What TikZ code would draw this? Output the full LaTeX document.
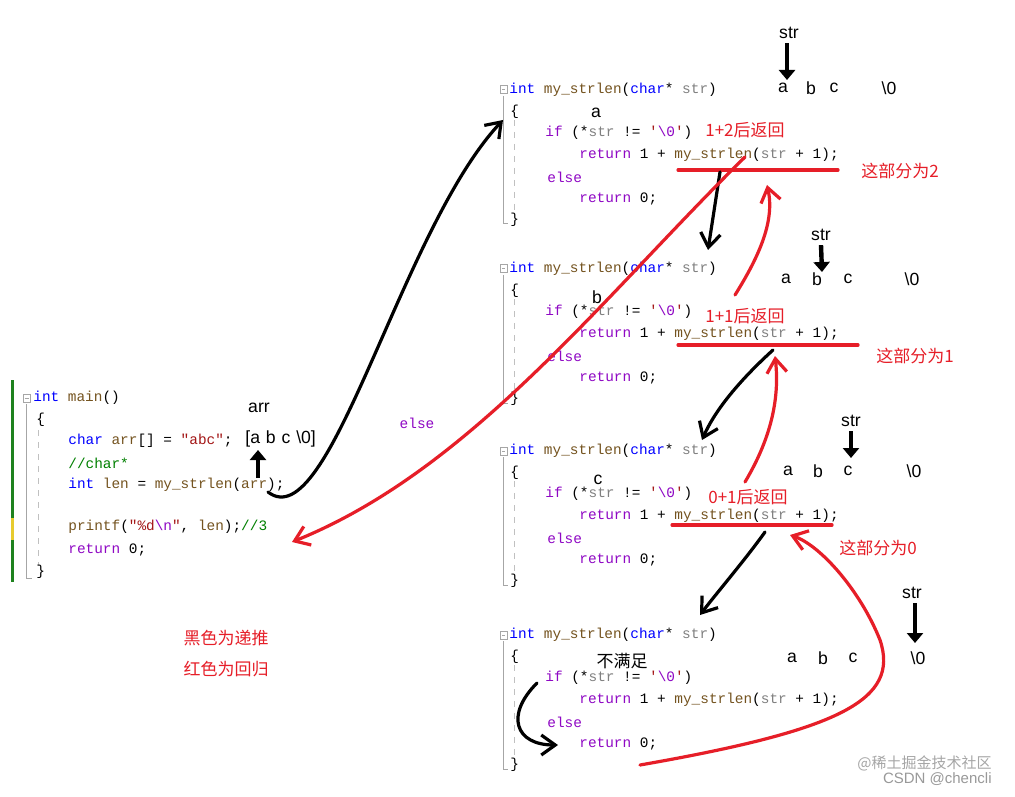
\documentclass[tikz,border=0pt]{standalone}
\usepackage{fontspec}
\setmainfont{Liberation Sans}
\newfontfamily\codefont{Liberation Mono}
\newfontfamily\cjk{Noto Sans CJK SC}
\usetikzlibrary{arrows.meta}
\definecolor{kwc}{RGB}{0,0,255}
\definecolor{fnc}{RGB}{116,83,31}
\definecolor{pac}{RGB}{128,128,128}
\definecolor{puc}{RGB}{143,8,196}
\definecolor{stc}{RGB}{163,21,21}
\definecolor{cmc}{RGB}{0,128,0}
\definecolor{redc}{RGB}{230,30,40}
\definecolor{barg}{RGB}{30,130,30}
\newcommand\Kw[1]{\textcolor{kwc}{#1}}
\newcommand\Fn[1]{\textcolor{fnc}{#1}}
\newcommand\Pa[1]{\textcolor{pac}{#1}}
\newcommand\Pu[1]{\textcolor{puc}{#1}}
\newcommand\St[1]{\textcolor{stc}{#1}}
\newcommand\Cm[1]{\textcolor{cmc}{#1}}
\tikzset{
  code/.style={anchor=west,inner sep=0pt,font=\codefont\fontsize{7.2pt}{8pt}\selectfont},
  lbl/.style={anchor=center,inner sep=0pt,font=\fontsize{8.8pt}{9pt}\selectfont},
  rlbl/.style={anchor=center,inner sep=0pt,text=redc,font=\cjk\fontsize{8.5pt}{9pt}\selectfont},
  blk/.style={line width=1.6pt,line cap=round,-{Straight Barb[length=7pt,width=10pt,line width=1.6pt]}},
  rd/.style={redc,line width=1.6pt,line cap=round,-{Straight Barb[length=7pt,width=10pt,line width=1.6pt]}},
  rl/.style={redc,line width=1.6pt,line cap=round},
  ptr/.style={line width=2.2pt,-{Triangle[length=5pt,width=8pt]}},
}
\newcommand\blkcode[2]{%
  \draw[pac!70,line width=0.5pt] (500,#1-4) rectangle (507,#1+4);
  \draw[pac!70,line width=0.5pt] (502,#1) -- (505,#1);
  \draw[pac!70,line width=0.5pt] (503.5,#1+6) -- (503.5,#1+134) -- (508,#1+134);
  \draw[pac!50,dashed,line width=0.4pt] (514,#1+30) -- (514,#1+124);
  \node[code] (h#2) at (509,#1) {\Kw{int} \Fn{my\_strlen}(\Kw{char}* \Pa{str})};
  \node[code] (ob#2) at (510,#1+22) {\{};
  \node[code] (if#2) at (545,#1+43) {\Pu{if} (*\Pa{str} != \St{'}\Pu{\textbackslash 0}\St{'})};
  \node[code] (re#2) at (579,#1+65) {\Pu{return} 1 + \Fn{my\_strlen}(\Pa{str} + 1);};
  \node[code] (el#2) at (547,#1+87) {\Pu{else}};
  \node[code] (rz#2) at (579,#1+109) {\Pu{return} 0;};
  \node[code] (cb#2) at (510,#1+130) {\}};
}
\begin{document}
\begin{tikzpicture}[x=0.5pt,y=-0.5pt]
\useasboundingbox[fill=white] (0,0) rectangle (1015,796);
% main
\fill[barg] (11,380) rectangle (14,582);
\fill[yellow!60!brown] (11,518) rectangle (14,540);
\draw[pac!70,line width=0.5pt] (23,394) rectangle (30,402);
\draw[pac!70,line width=0.5pt] (24.5,398) -- (28.5,398);
\draw[pac!70,line width=0.5pt] (26.5,404) -- (26.5,578) -- (32,578);
\draw[pac!50,dashed,line width=0.4pt] (38,430) -- (38,566);
\node[code] (mh) at (33,398) {\Kw{int} \Fn{main}()};
\node[code] (mo) at (36,420) {\{};
\node[code] (m1) at (68,441) {\Kw{char} \Fn{arr}[] = \St{"abc"};};
\node[code] (m2) at (68,463) {\Cm{//char*}};
\node[code] (m3) at (68,485) {\Kw{int} \Fn{len} = \Fn{my\_strlen}(\Fn{arr});};
\node[code] (m4) at (68,527) {\Fn{printf}(\St{"\%d}\Pu{\textbackslash n}\St{"}, \Fn{len});\Cm{//3}};
\node[code] (m5) at (68,550) {\Pu{return} 0;};
\node[code] (mc) at (36,572) {\}};
\node[lbl] (arrl) at (259,408) {arr};
\node[lbl,anchor=west] (arrv) at (245,439) {[a\,\,b\,\,c\,\,\textbackslash0]};
\coordinate (p0a) at (258,478); \coordinate (p0b) at (258,450);
\draw[ptr] (p0a) -- (p0b);
% blocks
\blkcode{90}{A}
\blkcode{269}{B}
\blkcode{451}{C}
\blkcode{635}{D}
% letters
\node[lbl] (la) at (596,113) {a};
\node[lbl] (lb) at (597,297) {b};
\node[lbl] (lc) at (598,480) {c};
\node[lbl,font=\cjk\fontsize{8.5pt}{9pt}\selectfont] (lno) at (622,661) {不满足};
\foreach \n/\xa/\xb/\xc/\xd/\yy in {1/783/811/834/889/88, 2/786/817/848/912/279, 3/788/818/848/914/471, 4/792/823/853/918/658}{
  \node[lbl] (a\n) at (\xa,\yy) {a};
  \node[lbl] (b\n) at (\xb,\yy) {b};
  \node[lbl] (c\n) at (\xc,\yy) {c};
  \node[lbl] (z\n) at (\xd,\yy) {\textbackslash0};
}
\node[lbl] (s1) at (789,33) {str};
\node[lbl] (s2) at (821,235) {str};
\node[lbl] (s3) at (851,421) {str};
\node[lbl] (s4) at (912,593) {str};
\draw[ptr] (s1.south)+(-2,4) -- (787,80);
\draw[ptr] (s2.south)+(0,4) -- (822,272);
\draw[ptr] (s3.south)+(0,4) -- (851,458);
\draw[ptr] (s4.south)+(3,4) -- (915,643);
% red labels
\node[rlbl] (r1) at (745,130) {1+2后返回};
\node[rlbl] (r2) at (900,171) {这部分为2};
\node[rlbl] (r3) at (745,316) {1+1后返回};
\node[rlbl] (r4) at (915,356) {这部分为1};
\node[rlbl] (r5) at (748,497) {0+1后返回};
\node[rlbl] (r6) at (878,548) {这部分为0};
\node[rlbl] (r7) at (226,638) {黑色为递推};
\node[rlbl] (r8) at (226,669) {红色为回归};
\node[code,anchor=center,text=puc] (els) at (417,423) {else};
\node[anchor=east,inner sep=0pt,text=gray!70,font=\cjk\fontsize{7.5pt}{8pt}\selectfont] (wm1) at (992,763) {@稀土掘金技术社区};
\node[anchor=east,inner sep=0pt,text=gray!80,font=\fontsize{7.5pt}{8pt}\selectfont] (wm2) at (992,779) {CSDN @chencli};
% underlines
\draw[rl] (678,170) -- (838,170);
\draw[rl] (678,345) -- (858,345);
\draw[rl] (672,525) -- (832,525);
% black arrows
\coordinate (k1a) at (268,492); \coordinate (k1b) at (503,120);
\draw[blk] (k1a) .. controls (330,540) and (400,230) .. (k1b);
\coordinate (k2a) at (720,172); \coordinate (k2b) at (708,250);
\draw[blk] (k2a) -- (k2b);
\coordinate (k3a) at (773,350); \coordinate (k3b) at (702,440);
\draw[blk] (k3a) .. controls (740,380) and (715,410) .. (k3b);
\coordinate (k4a) at (765,532); \coordinate (k4b) at (700,615);
\draw[blk] (k4a) .. controls (745,560) and (715,595) .. (k4b);
\coordinate (k5a) at (537,683); \coordinate (k5b) at (558,745);
\draw[blk] (k5a) .. controls (505,715) and (515,745) .. (k5b);
% red arrows
\coordinate (q1a) at (745,157); \coordinate (q1b) at (292,542);
\draw[rd] (q1a) .. controls (600,300) and (470,470) .. (q1b);
\coordinate (q2a) at (735,295); \coordinate (q2b) at (767,185);
\draw[rd] (q2a) .. controls (760,255) and (775,220) .. (q2b);
\coordinate (q3a) at (745,482); \coordinate (q3b) at (775,356);
\draw[rd] (q3a) .. controls (770,440) and (780,400) .. (q3b);
\coordinate (q4a) at (640,765); \coordinate (q4b) at (790,535);
\draw[rd] (q4a) .. controls (840,730) and (900,700) .. (880,640) .. controls (860,590) and (820,545) .. (q4b);
\end{tikzpicture}
\end{document}
